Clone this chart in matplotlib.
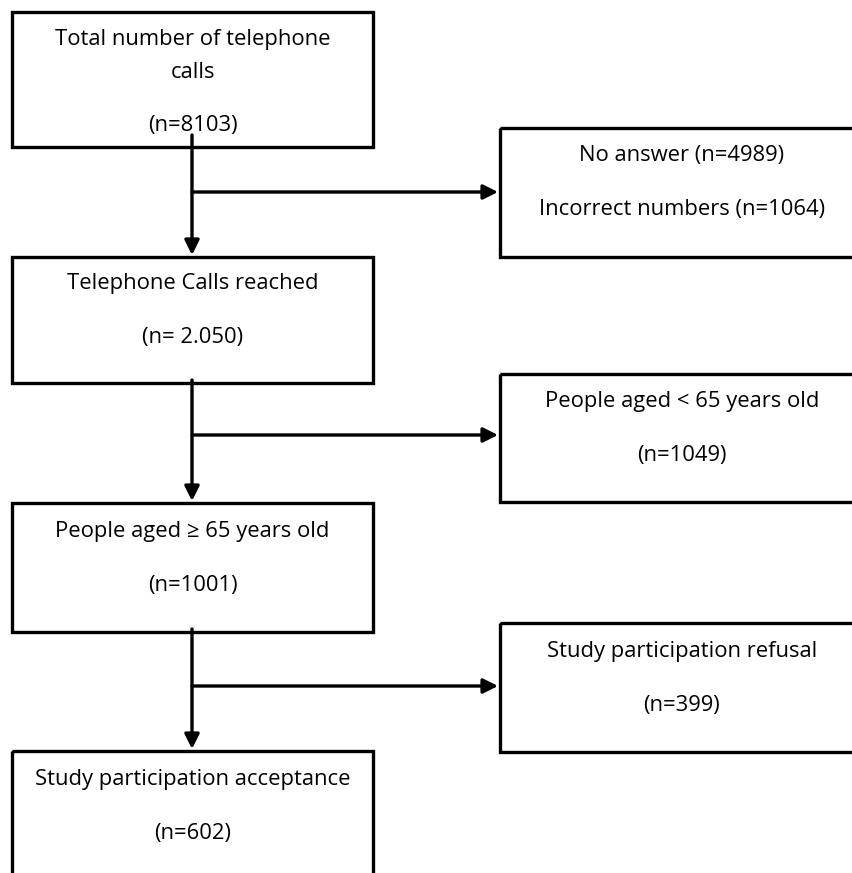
import matplotlib.pyplot as plt
from matplotlib.patches import Rectangle

plt.rcParams['font.family'] = ['Open Sans', 'DejaVu Sans']

# flow chart content
main_labels = [["Total number of telephone", "calls"],
               ["Telephone Calls reached"],
               ["People aged \u2265 65 years old"],
               ["Study participation acceptance"]]
main_n = ["8103", " 2.050", "1001", "602"]

excl_lines = [["No answer (n=4989)", "Incorrect numbers (n=1064)"],
              ["People aged < 65 years old", "(n=1049)"],
              ["Study participation refusal", "(n=399)"]]

# layout (pixels, y downward)
W, H = 852, 873
left_x = (12, 373)
right_x = (500, 900)
main_y = [(12, 147), (257, 383), (503, 632), (751, 900)]
excl_y = [(128, 257), (374, 502), (623, 752)]
main_text_y = [[40, 72, 125], [283, 337], [532, 585], [779, 833]]
excl_text_y = [[156, 209], [402, 456], [651, 706]]
trunk_x = 192
branch_y = [192, 435, 686]
trunk_start = [135, 380, 629]
fs = 15.8
lw = 2.4

fig = plt.figure(figsize=(W / 100, H / 100), dpi=100)
ax = fig.add_axes([0, 0, 1, 1])
ax.set_xlim(0, W)
ax.set_ylim(H, 0)
ax.axis('off')

def box(ax, x0, x1, y0, y1):
    ax.add_patch(Rectangle((x0, y0), x1 - x0, y1 - y0, fill=False,
                           edgecolor='black', lw=lw, joinstyle='miter'))

cx_left = (left_x[0] + left_x[1]) / 2
cx_right = 682

for i in range(len(main_labels)):
    y0, y1 = main_y[i]
    box(ax, left_x[0], left_x[1], y0, y1)
    lines = main_labels[i] + ["(n=%s)" % main_n[i]]
    for t, ty in zip(lines, main_text_y[i]):
        ax.text(cx_left, ty, t, ha='center', va='center', fontsize=fs)

for i in range(len(excl_lines)):
    y0, y1 = excl_y[i]
    box(ax, right_x[0], right_x[1], y0, y1)
    for t, ty in zip(excl_lines[i], excl_text_y[i]):
        ax.text(cx_right, ty, t, ha='center', va='center', fontsize=fs)

arrow = dict(arrowstyle='-|>', lw=lw, color='black', mutation_scale=22,
             shrinkA=0, shrinkB=0)
for i in range(3):
    ax.annotate("", xy=(trunk_x, main_y[i + 1][0] - 2), xytext=(trunk_x, trunk_start[i]),
                arrowprops=arrow)
    ax.annotate("", xy=(right_x[0] - 2, branch_y[i]), xytext=(trunk_x, branch_y[i]),
                arrowprops=arrow)

fig.savefig("out.png", dpi=100)
